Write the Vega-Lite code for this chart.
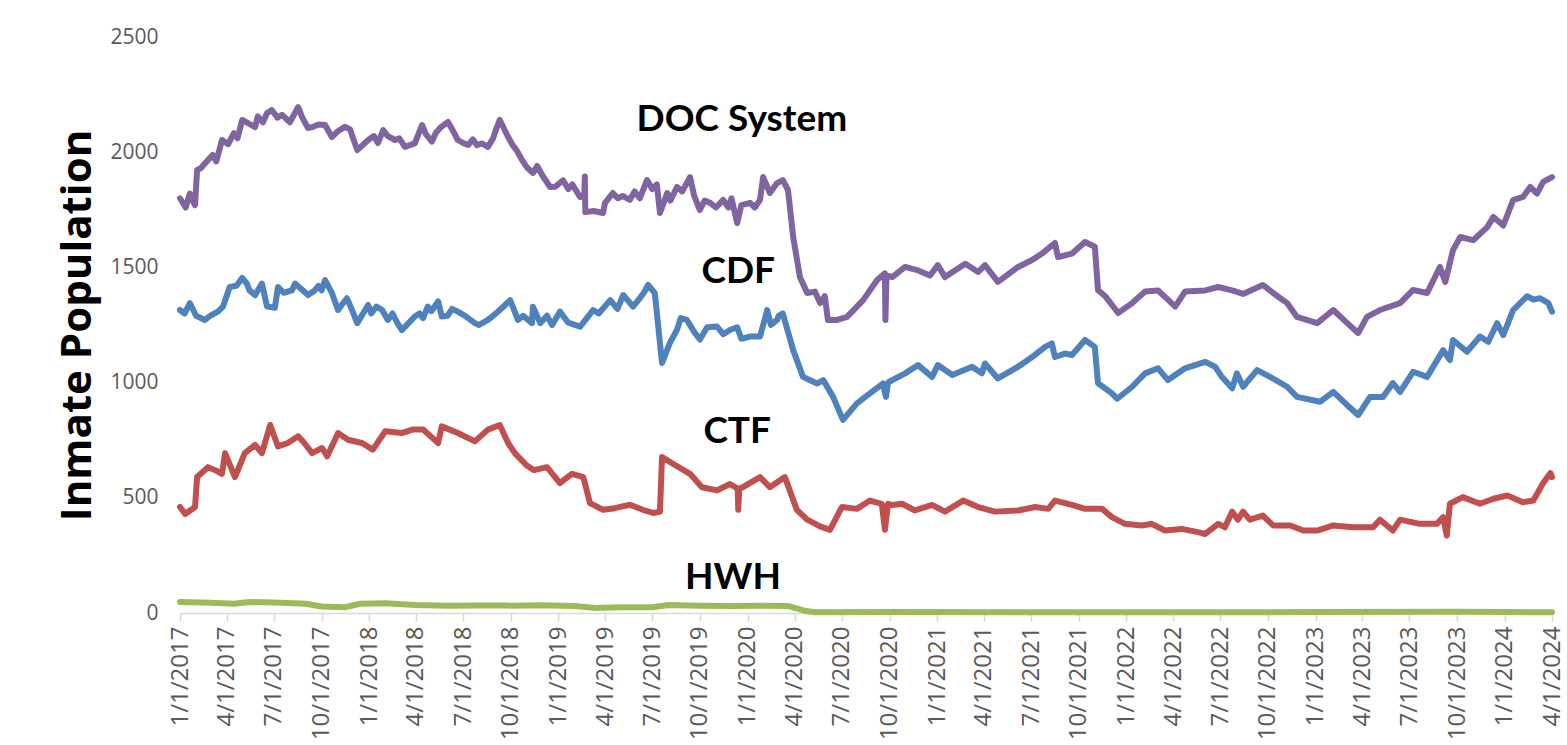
{
"$schema": "https://vega.github.io/schema/vega-lite/v6.json",
"width": 1372, "height": 576,
"autosize": "none",
"padding": {"left": 180, "top": 37, "right": 15, "bottom": 132},
"background": "white",
"config": {"view": {"stroke": null}, "font": "Open Sans"},
"datasets": {
"doc": [
{"d":"2017-01-01","v":1800},{"d":"2017-01-12","v":1760},{"d":"2017-01-20","v":1820},{"d":"2017-01-30","v":1770},{"d":"2017-02-03","v":1923},{"d":"2017-02-10","v":1930},{"d":"2017-02-24","v":1966},{"d":"2017-03-05","v":1988},{"d":"2017-03-12","v":1960},{"d":"2017-03-23","v":2053},{"d":"2017-04-04","v":2035},{"d":"2017-04-15","v":2083},{"d":"2017-04-22","v":2060},{"d":"2017-05-01","v":2140},{"d":"2017-05-26","v":2109},{"d":"2017-05-31","v":2155},{"d":"2017-06-10","v":2130},{"d":"2017-06-18","v":2170},{"d":"2017-06-27","v":2183},{"d":"2017-07-08","v":2150},{"d":"2017-07-17","v":2162},{"d":"2017-08-01","v":2130},{"d":"2017-08-17","v":2196},{"d":"2017-08-25","v":2150},{"d":"2017-09-05","v":2105},{"d":"2017-09-15","v":2110},{"d":"2017-09-25","v":2120},{"d":"2017-10-08","v":2118},{"d":"2017-10-21","v":2066},{"d":"2017-11-01","v":2090},{"d":"2017-11-15","v":2110},{"d":"2017-11-25","v":2100},{"d":"2017-12-01","v":2060},{"d":"2017-12-09","v":2009},{"d":"2017-12-30","v":2053},{"d":"2018-01-10","v":2070},{"d":"2018-01-18","v":2040},{"d":"2018-01-28","v":2096},{"d":"2018-02-06","v":2070},{"d":"2018-02-20","v":2053},{"d":"2018-02-28","v":2060},{"d":"2018-03-11","v":2023},{"d":"2018-03-30","v":2038},{"d":"2018-04-13","v":2118},{"d":"2018-04-20","v":2080},{"d":"2018-05-02","v":2046},{"d":"2018-05-10","v":2085},{"d":"2018-05-20","v":2110},{"d":"2018-06-02","v":2131},{"d":"2018-06-10","v":2100},{"d":"2018-06-21","v":2053},{"d":"2018-07-01","v":2040},{"d":"2018-07-11","v":2031},{"d":"2018-07-20","v":2055},{"d":"2018-07-28","v":2030},{"d":"2018-08-07","v":2038},{"d":"2018-08-18","v":2023},{"d":"2018-08-28","v":2060},{"d":"2018-09-03","v":2100},{"d":"2018-09-10","v":2140},{"d":"2018-09-26","v":2066},{"d":"2018-10-05","v":2030},{"d":"2018-10-12","v":2010},{"d":"2018-10-23","v":1966},{"d":"2018-11-01","v":1935},{"d":"2018-11-13","v":1910},{"d":"2018-11-21","v":1940},{"d":"2018-12-01","v":1900},{"d":"2018-12-16","v":1849},{"d":"2018-12-26","v":1850},{"d":"2019-01-10","v":1878},{"d":"2019-01-20","v":1840},{"d":"2019-01-28","v":1860},{"d":"2019-02-12","v":1805},{"d":"2019-02-20","v":1810},{"d":"2019-02-21","v":1895},{"d":"2019-02-22","v":1740},{"d":"2019-03-10","v":1745},{"d":"2019-03-28","v":1736},{"d":"2019-04-01","v":1780},{"d":"2019-04-16","v":1823},{"d":"2019-04-26","v":1800},{"d":"2019-05-05","v":1810},{"d":"2019-05-19","v":1793},{"d":"2019-05-28","v":1830},{"d":"2019-06-07","v":1800},{"d":"2019-06-21","v":1879},{"d":"2019-07-01","v":1840},{"d":"2019-07-10","v":1860},{"d":"2019-07-16","v":1736},{"d":"2019-07-30","v":1823},{"d":"2019-08-05","v":1790},{"d":"2019-08-18","v":1849},{"d":"2019-08-28","v":1830},{"d":"2019-09-12","v":1892},{"d":"2019-09-20","v":1810},{"d":"2019-10-01","v":1749},{"d":"2019-10-10","v":1790},{"d":"2019-10-21","v":1780},{"d":"2019-11-01","v":1760},{"d":"2019-11-15","v":1793},{"d":"2019-11-25","v":1760},{"d":"2019-12-01","v":1800},{"d":"2019-12-12","v":1692},{"d":"2019-12-20","v":1770},{"d":"2020-01-06","v":1780},{"d":"2020-01-15","v":1760},{"d":"2020-01-25","v":1793},{"d":"2020-01-31","v":1892},{"d":"2020-02-13","v":1823},{"d":"2020-02-27","v":1866},{"d":"2020-03-09","v":1879},{"d":"2020-03-19","v":1836},{"d":"2020-03-29","v":1632},{"d":"2020-04-11","v":1458},{"d":"2020-04-25","v":1389},{"d":"2020-05-10","v":1395},{"d":"2020-05-20","v":1345},{"d":"2020-05-29","v":1375},{"d":"2020-06-04","v":1272},{"d":"2020-06-22","v":1272},{"d":"2020-07-11","v":1285},{"d":"2020-08-11","v":1358},{"d":"2020-09-07","v":1445},{"d":"2020-09-22","v":1474},{"d":"2020-09-23","v":1272},{"d":"2020-09-25","v":1465},{"d":"2020-10-06","v":1458},{"d":"2020-10-31","v":1502},{"d":"2020-11-25","v":1487},{"d":"2020-12-18","v":1465},{"d":"2021-01-02","v":1510},{"d":"2021-01-16","v":1458},{"d":"2021-02-24","v":1516},{"d":"2021-03-21","v":1480},{"d":"2021-04-03","v":1510},{"d":"2021-04-28","v":1437},{"d":"2021-06-06","v":1502},{"d":"2021-07-03","v":1532},{"d":"2021-07-22","v":1560},{"d":"2021-08-16","v":1606},{"d":"2021-08-22","v":1545},{"d":"2021-09-18","v":1560},{"d":"2021-10-13","v":1610},{"d":"2021-11-01","v":1590},{"d":"2021-11-07","v":1402},{"d":"2021-11-21","v":1375},{"d":"2021-12-16","v":1302},{"d":"2022-01-12","v":1345},{"d":"2022-02-06","v":1395},{"d":"2022-03-03","v":1400},{"d":"2022-03-22","v":1360},{"d":"2022-04-05","v":1330},{"d":"2022-04-24","v":1395},{"d":"2022-06-02","v":1400},{"d":"2022-06-27","v":1415},{"d":"2022-07-24","v":1400},{"d":"2022-08-14","v":1385},{"d":"2022-09-21","v":1424},{"d":"2022-10-11","v":1389},{"d":"2022-11-07","v":1345},{"d":"2022-11-26","v":1285},{"d":"2023-01-04","v":1258},{"d":"2023-02-04","v":1315},{"d":"2023-03-03","v":1258},{"d":"2023-03-24","v":1215},{"d":"2023-04-10","v":1285},{"d":"2023-05-05","v":1315},{"d":"2023-06-13","v":1345},{"d":"2023-07-08","v":1402},{"d":"2023-08-04","v":1389},{"d":"2023-08-29","v":1502},{"d":"2023-09-08","v":1437},{"d":"2023-09-23","v":1575},{"d":"2023-10-07","v":1632},{"d":"2023-11-01","v":1618},{"d":"2023-11-28","v":1675},{"d":"2023-12-10","v":1719},{"d":"2023-12-29","v":1682},{"d":"2024-01-17","v":1792},{"d":"2024-02-05","v":1806},{"d":"2024-02-19","v":1849},{"d":"2024-03-03","v":1820},{"d":"2024-03-15","v":1871},{"d":"2024-04-01","v":1892}
],
"cdf": [
{"d":"2017-01-01","v":1315},{"d":"2017-01-10","v":1300},{"d":"2017-01-20","v":1345},{"d":"2017-02-01","v":1290},{"d":"2017-02-18","v":1272},{"d":"2017-02-28","v":1290},{"d":"2017-03-15","v":1308},{"d":"2017-03-25","v":1330},{"d":"2017-04-07","v":1415},{"d":"2017-04-20","v":1420},{"d":"2017-05-01","v":1454},{"d":"2017-05-10","v":1430},{"d":"2017-05-15","v":1400},{"d":"2017-05-26","v":1380},{"d":"2017-06-08","v":1430},{"d":"2017-06-18","v":1330},{"d":"2017-07-03","v":1325},{"d":"2017-07-09","v":1415},{"d":"2017-07-20","v":1390},{"d":"2017-08-05","v":1400},{"d":"2017-08-11","v":1430},{"d":"2017-09-05","v":1380},{"d":"2017-09-18","v":1400},{"d":"2017-09-25","v":1420},{"d":"2017-10-01","v":1400},{"d":"2017-10-08","v":1445},{"d":"2017-10-21","v":1389},{"d":"2017-11-02","v":1315},{"d":"2017-11-10","v":1340},{"d":"2017-11-19","v":1366},{"d":"2017-11-28","v":1320},{"d":"2017-12-09","v":1258},{"d":"2017-12-30","v":1337},{"d":"2018-01-05","v":1300},{"d":"2018-01-15","v":1330},{"d":"2018-01-26","v":1315},{"d":"2018-02-06","v":1272},{"d":"2018-02-15","v":1300},{"d":"2018-02-24","v":1260},{"d":"2018-03-05","v":1228},{"d":"2018-03-30","v":1287},{"d":"2018-04-08","v":1300},{"d":"2018-04-15","v":1280},{"d":"2018-04-24","v":1330},{"d":"2018-05-01","v":1310},{"d":"2018-05-14","v":1352},{"d":"2018-05-21","v":1287},{"d":"2018-06-01","v":1290},{"d":"2018-06-10","v":1320},{"d":"2018-06-21","v":1308},{"d":"2018-07-05","v":1290},{"d":"2018-07-24","v":1258},{"d":"2018-08-01","v":1250},{"d":"2018-08-18","v":1272},{"d":"2018-08-28","v":1290},{"d":"2018-09-10","v":1315},{"d":"2018-09-30","v":1358},{"d":"2018-10-15","v":1272},{"d":"2018-10-25","v":1290},{"d":"2018-11-11","v":1258},{"d":"2018-11-13","v":1329},{"d":"2018-11-27","v":1258},{"d":"2018-12-10","v":1290},{"d":"2018-12-20","v":1250},{"d":"2019-01-04","v":1308},{"d":"2019-01-20","v":1260},{"d":"2019-02-12","v":1243},{"d":"2019-02-25","v":1280},{"d":"2019-03-09","v":1315},{"d":"2019-03-20","v":1300},{"d":"2019-04-11","v":1358},{"d":"2019-04-25","v":1320},{"d":"2019-05-06","v":1380},{"d":"2019-05-25","v":1330},{"d":"2019-06-05","v":1360},{"d":"2019-06-15","v":1390},{"d":"2019-06-23","v":1424},{"d":"2019-07-06","v":1389},{"d":"2019-07-20","v":1085},{"d":"2019-08-04","v":1172},{"d":"2019-08-18","v":1230},{"d":"2019-08-25","v":1280},{"d":"2019-09-06","v":1272},{"d":"2019-09-20","v":1220},{"d":"2019-10-01","v":1187},{"d":"2019-10-15","v":1240},{"d":"2019-11-03","v":1243},{"d":"2019-11-15","v":1210},{"d":"2019-11-28","v":1228},{"d":"2019-12-12","v":1240},{"d":"2019-12-20","v":1190},{"d":"2020-01-06","v":1200},{"d":"2020-01-25","v":1200},{"d":"2020-02-08","v":1315},{"d":"2020-02-15","v":1250},{"d":"2020-02-27","v":1272},{"d":"2020-03-01","v":1290},{"d":"2020-03-09","v":1300},{"d":"2020-03-29","v":1141},{"d":"2020-04-17","v":1025},{"d":"2020-05-14","v":996},{"d":"2020-05-26","v":1011},{"d":"2020-06-14","v":938},{"d":"2020-07-03","v":838},{"d":"2020-07-30","v":910},{"d":"2020-08-24","v":953},{"d":"2020-09-18","v":996},{"d":"2020-09-24","v":938},{"d":"2020-09-28","v":1000},{"d":"2020-10-06","v":1011},{"d":"2020-10-31","v":1040},{"d":"2020-11-25","v":1076},{"d":"2020-12-22","v":1025},{"d":"2021-01-02","v":1076},{"d":"2021-01-30","v":1033},{"d":"2021-03-09","v":1069},{"d":"2021-03-28","v":1040},{"d":"2021-04-03","v":1083},{"d":"2021-04-28","v":1018},{"d":"2021-06-06","v":1069},{"d":"2021-07-03","v":1111},{"d":"2021-07-28","v":1155},{"d":"2021-08-10","v":1170},{"d":"2021-08-16","v":1111},{"d":"2021-09-04","v":1126},{"d":"2021-09-18","v":1120},{"d":"2021-10-13","v":1185},{"d":"2021-11-01","v":1155},{"d":"2021-11-07","v":998},{"d":"2021-12-04","v":953},{"d":"2021-12-14","v":930},{"d":"2022-01-12","v":982},{"d":"2022-02-06","v":1040},{"d":"2022-03-03","v":1062},{"d":"2022-03-22","v":1011},{"d":"2022-04-24","v":1062},{"d":"2022-06-02","v":1090},{"d":"2022-06-21","v":1069},{"d":"2022-07-04","v":1025},{"d":"2022-07-24","v":975},{"d":"2022-08-02","v":1040},{"d":"2022-08-14","v":982},{"d":"2022-09-10","v":1054},{"d":"2022-10-05","v":1025},{"d":"2022-11-07","v":982},{"d":"2022-11-26","v":938},{"d":"2023-01-10","v":917},{"d":"2023-02-04","v":960},{"d":"2023-03-03","v":902},{"d":"2023-03-24","v":859},{"d":"2023-04-16","v":938},{"d":"2023-05-11","v":938},{"d":"2023-05-30","v":998},{"d":"2023-06-13","v":960},{"d":"2023-07-08","v":1047},{"d":"2023-08-04","v":1025},{"d":"2023-09-04","v":1141},{"d":"2023-09-17","v":1098},{"d":"2023-09-23","v":1185},{"d":"2023-10-20","v":1134},{"d":"2023-11-14","v":1200},{"d":"2023-11-30","v":1177},{"d":"2023-12-17","v":1258},{"d":"2023-12-29","v":1206},{"d":"2024-01-17","v":1315},{"d":"2024-02-13","v":1375},{"d":"2024-02-25","v":1360},{"d":"2024-03-09","v":1366},{"d":"2024-03-25","v":1345},{"d":"2024-04-01","v":1308}
],
"ctf": [
{"d":"2017-01-01","v":460},{"d":"2017-01-11","v":430},{"d":"2017-01-30","v":460},{"d":"2017-02-03","v":590},{"d":"2017-02-24","v":633},{"d":"2017-03-10","v":620},{"d":"2017-03-23","v":604},{"d":"2017-03-29","v":694},{"d":"2017-04-17","v":590},{"d":"2017-05-06","v":694},{"d":"2017-05-26","v":730},{"d":"2017-06-08","v":694},{"d":"2017-06-24","v":816},{"d":"2017-07-09","v":723},{"d":"2017-07-28","v":738},{"d":"2017-08-17","v":767},{"d":"2017-08-28","v":740},{"d":"2017-09-13","v":694},{"d":"2017-10-02","v":716},{"d":"2017-10-12","v":680},{"d":"2017-11-02","v":781},{"d":"2017-11-21","v":752},{"d":"2017-12-18","v":738},{"d":"2018-01-08","v":709},{"d":"2018-02-01","v":789},{"d":"2018-03-05","v":781},{"d":"2018-03-25","v":796},{"d":"2018-04-15","v":796},{"d":"2018-05-14","v":738},{"d":"2018-05-21","v":810},{"d":"2018-06-21","v":781},{"d":"2018-07-24","v":745},{"d":"2018-08-18","v":796},{"d":"2018-09-10","v":816},{"d":"2018-09-26","v":738},{"d":"2018-10-09","v":694},{"d":"2018-11-01","v":640},{"d":"2018-11-15","v":620},{"d":"2018-12-10","v":633},{"d":"2019-01-04","v":564},{"d":"2019-01-27","v":604},{"d":"2019-02-18","v":590},{"d":"2019-03-03","v":477},{"d":"2019-03-28","v":448},{"d":"2019-04-20","v":455},{"d":"2019-05-19","v":470},{"d":"2019-06-13","v":448},{"d":"2019-07-03","v":434},{"d":"2019-07-16","v":440},{"d":"2019-07-20","v":677},{"d":"2019-08-10","v":648},{"d":"2019-09-12","v":604},{"d":"2019-10-05","v":546},{"d":"2019-11-03","v":532},{"d":"2019-11-28","v":560},{"d":"2019-12-13","v":540},{"d":"2019-12-14","v":448},{"d":"2019-12-16","v":540},{"d":"2019-12-23","v":546},{"d":"2020-01-25","v":590},{"d":"2020-02-13","v":546},{"d":"2020-03-13","v":590},{"d":"2020-04-05","v":448},{"d":"2020-04-25","v":405},{"d":"2020-05-20","v":376},{"d":"2020-06-08","v":361},{"d":"2020-07-01","v":460},{"d":"2020-07-30","v":452},{"d":"2020-08-24","v":488},{"d":"2020-09-16","v":474},{"d":"2020-09-22","v":361},{"d":"2020-09-28","v":474},{"d":"2020-10-06","v":469},{"d":"2020-10-25","v":474},{"d":"2020-11-19","v":445},{"d":"2020-12-22","v":469},{"d":"2021-01-16","v":440},{"d":"2021-02-20","v":488},{"d":"2021-03-21","v":460},{"d":"2021-04-22","v":440},{"d":"2021-06-06","v":445},{"d":"2021-07-09","v":460},{"d":"2021-08-03","v":452},{"d":"2021-08-16","v":488},{"d":"2021-09-18","v":469},{"d":"2021-10-13","v":452},{"d":"2021-11-15","v":452},{"d":"2021-12-04","v":416},{"d":"2021-12-29","v":387},{"d":"2022-01-31","v":380},{"d":"2022-02-19","v":387},{"d":"2022-03-16","v":358},{"d":"2022-04-18","v":365},{"d":"2022-05-19","v":351},{"d":"2022-06-02","v":343},{"d":"2022-06-27","v":387},{"d":"2022-07-10","v":372},{"d":"2022-07-24","v":440},{"d":"2022-08-04","v":405},{"d":"2022-08-14","v":440},{"d":"2022-08-27","v":405},{"d":"2022-09-21","v":423},{"d":"2022-10-11","v":380},{"d":"2022-11-13","v":380},{"d":"2022-12-08","v":358},{"d":"2023-01-04","v":358},{"d":"2023-02-04","v":380},{"d":"2023-03-14","v":372},{"d":"2023-04-22","v":372},{"d":"2023-05-05","v":405},{"d":"2023-05-30","v":358},{"d":"2023-06-13","v":405},{"d":"2023-07-21","v":387},{"d":"2023-08-23","v":387},{"d":"2023-09-04","v":416},{"d":"2023-09-11","v":336},{"d":"2023-09-17","v":474},{"d":"2023-10-12","v":503},{"d":"2023-11-14","v":474},{"d":"2023-12-10","v":496},{"d":"2024-01-06","v":510},{"d":"2024-02-05","v":481},{"d":"2024-02-25","v":488},{"d":"2024-03-15","v":564},{"d":"2024-03-29","v":607},{"d":"2024-04-01","v":590}
],
"hwh": [
{"d":"2017-01-01","v":48},{"d":"2017-03-01","v":45},{"d":"2017-04-15","v":40},{"d":"2017-05-15","v":48},{"d":"2017-07-15","v":44},{"d":"2017-09-01","v":40},{"d":"2017-10-01","v":28},{"d":"2017-11-15","v":25},{"d":"2017-12-15","v":40},{"d":"2018-02-01","v":42},{"d":"2018-04-01","v":35},{"d":"2018-06-01","v":32},{"d":"2018-08-01","v":33},{"d":"2018-10-01","v":32},{"d":"2018-12-01","v":34},{"d":"2019-02-01","v":30},{"d":"2019-03-15","v":22},{"d":"2019-05-01","v":25},{"d":"2019-07-01","v":25},{"d":"2019-08-01","v":35},{"d":"2019-10-01","v":32},{"d":"2019-12-01","v":30},{"d":"2020-02-01","v":32},{"d":"2020-03-20","v":30},{"d":"2020-04-20","v":10},{"d":"2020-05-10","v":3},{"d":"2020-10-01","v":4},{"d":"2021-06-01","v":3},{"d":"2022-01-01","v":3},{"d":"2023-01-01","v":4},{"d":"2023-10-01","v":5},{"d":"2024-01-01","v":4},{"d":"2024-04-01","v":3}
],
"labels": [
{"d":"2019-12-21","v":2140,"t":"DOC System"},{"d":"2019-12-14","v":1480,"t":"CDF"},{"d":"2019-12-12","v":786,"t":"CTF"},{"d":"2019-12-04","v":152,"t":"HWH"}
]
},
"encoding": {
"x": {"field": "d", "type": "temporal",
 "scale": {"type": "utc", "domain": [{"year": 2017, "month": 1, "date": 1, "utc": true}, {"year": 2024, "month": 4, "date": 1, "utc": true}]},
 "axis": {"title": null, "grid": false, "labelFlush": false, "labelOverlap": false,
  "values": [
   {"year":2017,"month":1,"date":1,"utc":true},{"year":2017,"month":4,"date":1,"utc":true},{"year":2017,"month":7,"date":1,"utc":true},{"year":2017,"month":10,"date":1,"utc":true},
   {"year":2018,"month":1,"date":1,"utc":true},{"year":2018,"month":4,"date":1,"utc":true},{"year":2018,"month":7,"date":1,"utc":true},{"year":2018,"month":10,"date":1,"utc":true},
   {"year":2019,"month":1,"date":1,"utc":true},{"year":2019,"month":4,"date":1,"utc":true},{"year":2019,"month":7,"date":1,"utc":true},{"year":2019,"month":10,"date":1,"utc":true},
   {"year":2020,"month":1,"date":1,"utc":true},{"year":2020,"month":4,"date":1,"utc":true},{"year":2020,"month":7,"date":1,"utc":true},{"year":2020,"month":10,"date":1,"utc":true},
   {"year":2021,"month":1,"date":1,"utc":true},{"year":2021,"month":4,"date":1,"utc":true},{"year":2021,"month":7,"date":1,"utc":true},{"year":2021,"month":10,"date":1,"utc":true},
   {"year":2022,"month":1,"date":1,"utc":true},{"year":2022,"month":4,"date":1,"utc":true},{"year":2022,"month":7,"date":1,"utc":true},{"year":2022,"month":10,"date":1,"utc":true},
   {"year":2023,"month":1,"date":1,"utc":true},{"year":2023,"month":4,"date":1,"utc":true},{"year":2023,"month":7,"date":1,"utc":true},{"year":2023,"month":10,"date":1,"utc":true},
   {"year":2024,"month":1,"date":1,"utc":true},{"year":2024,"month":4,"date":1,"utc":true}
  ],
  "labelExpr": "utcFormat(datum.value, '%-m/%-d/%Y')",
  "labelAngle": -90, "labelFontSize": 24, "labelFont": "Open Sans", "labelColor": "#595959", "labelPadding": 5,
  "domainColor": "#D9D9D9", "domainWidth": 1.5, "tickColor": "#D9D9D9", "tickWidth": 1.5, "tickSize": 8}},
"y": {"field": "v", "type": "quantitative",
 "scale": {"domain": [0, 2500], "nice": false, "zero": true},
 "axis": {"values": [0, 500, 1000, 1500, 2000, 2500], "format": "d", "grid": false, "domain": false, "ticks": false,
  "labelFontSize": 21, "labelFont": "Open Sans", "labelColor": "#595959", "labelPadding": 22,
  "title": "Inmate Population", "titleFontSize": 42, "titleFontWeight": "bold", "titleColor": "black", "titlePadding": 10, "titleFont": "Open Sans"}}
},
"layer": [
{"data": {"name": "doc"}, "mark": {"type": "line", "color": "#8064A2", "strokeWidth": 6, "strokeJoin": "round", "strokeCap": "round"}},
{"data": {"name": "cdf"}, "mark": {"type": "line", "color": "#4F81BD", "strokeWidth": 6, "strokeJoin": "round", "strokeCap": "round"}},
{"data": {"name": "ctf"}, "mark": {"type": "line", "color": "#C0504D", "strokeWidth": 6, "strokeJoin": "round", "strokeCap": "round"}},
{"data": {"name": "hwh"}, "mark": {"type": "line", "color": "#9BBB59", "strokeWidth": 6, "strokeJoin": "round", "strokeCap": "round"}},
{"data": {"name": "labels"}, "mark": {"type": "text", "fontSize": 37, "fontWeight": "bold", "color": "black", "font": "Lato"}, "encoding": {"text": {"field": "t"}}}
]
}
